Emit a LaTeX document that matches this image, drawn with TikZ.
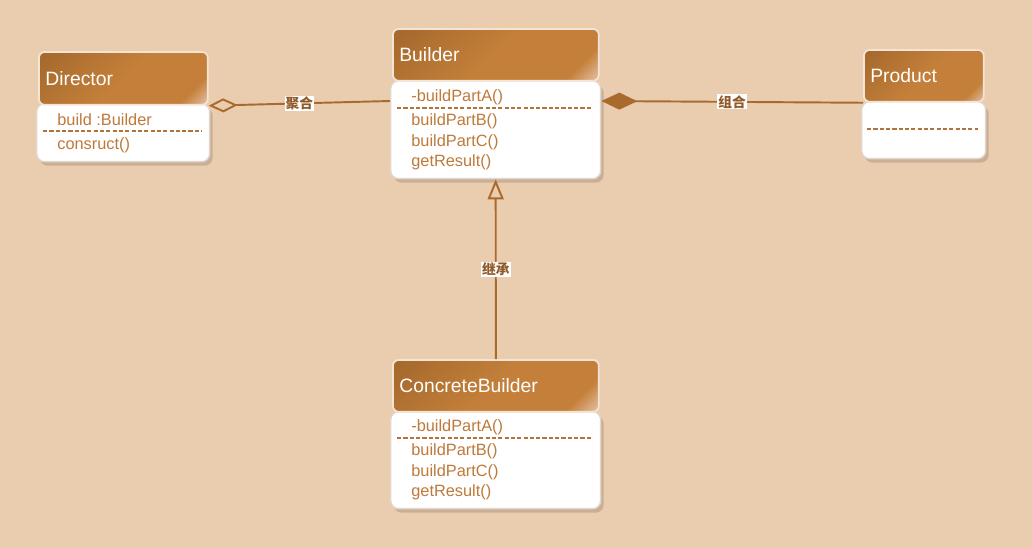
\documentclass[tikz,border=0pt]{standalone}
\usepackage{fontspec}
\setmainfont{Liberation Sans}
\newfontfamily\cjk{Noto Sans CJK SC}
\usetikzlibrary{arrows.meta,shadows,calc}

\definecolor{bg}{HTML}{EACCAE}
\definecolor{hdrdark}{HTML}{A76A2D}
\definecolor{hdrmid}{HTML}{C4803A}
\definecolor{hdrlight}{HTML}{EBCDBB}
\definecolor{headrim}{HTML}{F3E4D6}
\definecolor{rim}{HTML}{E2D6CD}
\definecolor{memtxt}{HTML}{BF7A3A}
\definecolor{dashcol}{HTML}{B0733A}
\definecolor{linecol}{HTML}{A86A2D}
\definecolor{tagtxt}{HTML}{8F5A28}

\pgfdeclarehorizontalshading{hdrshade}{100bp}{color(0bp)=(hdrdark); color(18bp)=(hdrdark); color(50bp)=(hdrmid); color(76bp)=(hdrmid); color(87bp)=(hdrlight); color(100bp)=(hdrlight)}

\begin{document}
\begin{tikzpicture}[x=0.02cm, y=-0.02cm,
    body/.style={draw=rim, line width=0.8pt, fill=white, rounded corners=0.16cm, anchor=north west, inner sep=0pt,
      drop shadow={shadow xshift=0.06cm, shadow yshift=-0.08cm, opacity=0.14, fill=black}},
    head/.style={draw=headrim, line width=1pt, shading=hdrshade, shading angle=-45, rounded corners=0.12cm, anchor=north west, inner sep=0pt},
    title/.style={anchor=west, text=white, inner sep=0.14cm, font=\fontsize{11}{13}\selectfont},
    member/.style={anchor=west, text=memtxt, inner sep=0pt, font=\fontsize{9.3}{11}\selectfont},
    sep/.style={draw=dashcol, line width=0.9pt, dash pattern=on 2.4pt off 1.2pt},
    link/.style={draw=linecol, line width=1.1pt},
    tag/.style={fill=white, inner sep=0.6pt, text=tagtxt, font=\cjk\bfseries\fontsize{7.8}{8}\selectfont}]

    % 背景
    \fill[bg] (0,0) rectangle (1032,548);
    \useasboundingbox (0,0) rectangle (1032,548);

    % Director
    \node[body, minimum width=3.46cm, minimum height=1.16cm] (dir-b) at (36,103) {};
    \node[head, minimum width=3.38cm, minimum height=1.06cm] (dir-h) at (38,51) {};
    \node[title] (dir-t) at (dir-h.west) {Director};
    \node[member] (dir-a) at (57,120) {build :Builder};
    \draw[sep] (43,131) -- (202,131);
    \node[member] (dir-o) at (57,145) {consruct()};

    % Builder
    \node[body, minimum width=4.2cm, minimum height=1.96cm] (bld-b) at (390,80) {};
    \node[head, minimum width=4.12cm, minimum height=1.04cm] (bld-h) at (392,28) {};
    \node[title] (bld-t) at (bld-h.west) {Builder};
    \node[member] (bld-a) at (411,97) {-buildPartA()};
    \draw[sep] (397,108) -- (592,108);
    \foreach \m [count=\i] in {buildPartB(),buildPartC(),getResult()} {
        \node[member] (bld-m\i) at (411,101+20.5*\i) {\m};
    }

    % Product
    \node[body, minimum width=2.48cm, minimum height=1.14cm] (prd-b) at (861,101) {};
    \node[head, minimum width=2.4cm, minimum height=1.04cm] (prd-h) at (863,49) {};
    \node[title] (prd-t) at (prd-h.west) {Product};
    \draw[sep] (867,129) -- (978,129);

    % ConcreteBuilder
    \node[body, minimum width=4.2cm, minimum height=1.94cm] (cb-b) at (390,411) {};
    \node[head, minimum width=4.12cm, minimum height=1.04cm] (cb-h) at (392,359) {};
    \node[title] (cb-t) at (cb-h.west) {ConcreteBuilder};
    \node[member] (cb-a) at (411,427) {-buildPartA()};
    \draw[sep] (397,438) -- (592,438);
    \foreach \m [count=\i] in {buildPartB(),buildPartC(),getResult()} {
        \node[member] (cb-m\i) at (411,431+20.5*\i) {\m};
    }

    % 聚合、组合、继承
    \draw[link, {Diamond[open, length=0.58cm, width=0.28cm]}-] (dir-h.south east) -- node[tag, midway] (agg) {聚合} ($(bld-b.north west)+(0,21)$);
    \draw[link, {Diamond[length=0.72cm, width=0.34cm]}-] ($(bld-b.north east)+(0,21)$) -- node[tag, midway] (cmp) {组合} (prd-h.south west);
    \draw[link, -{Triangle[open, length=0.4cm, width=0.32cm]}] (cb-h.north) -- node[tag, midway] (inh) {继承} (bld-b.south);
\end{tikzpicture}
\end{document}
